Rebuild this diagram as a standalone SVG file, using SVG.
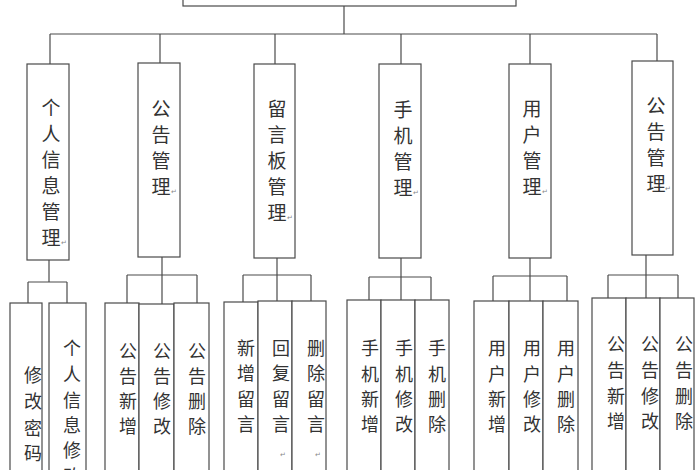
<svg xmlns="http://www.w3.org/2000/svg" width="700" height="470" viewBox="0 0 700 470">
<style>
rect{fill:#fff;stroke:#4a4a4a;stroke-width:1.2}
#connectors line{stroke:#4a4a4a;stroke-width:1.2}
.t{font-family:"Noto Sans CJK SC","Noto Sans CJK TC",sans-serif;font-size:19px;fill:#333;text-anchor:middle}
.s{font-family:"Noto Sans CJK SC","Noto Sans CJK TC",sans-serif;font-size:18px;fill:#333;text-anchor:middle}
.p{font-family:"DejaVu Sans",sans-serif;font-size:7px;fill:#888}
</style>
<rect width="700" height="470" style="stroke:none"/>
<g id="connectors">
<line x1="344" y1="6" x2="344" y2="34"/>
<line x1="50" y1="34" x2="657" y2="34"/>
<line x1="50" y1="34" x2="50" y2="64"/>
<line x1="160" y1="34" x2="160" y2="63"/>
<line x1="275" y1="34" x2="275" y2="64"/>
<line x1="401" y1="34" x2="401" y2="64"/>
<line x1="530" y1="34" x2="530" y2="64"/>
<line x1="657" y1="34" x2="657" y2="61"/>
<line x1="49" y1="260" x2="49" y2="282"/>
<line x1="28" y1="282" x2="67" y2="282"/>
<line x1="28" y1="282" x2="28" y2="303"/>
<line x1="67" y1="282" x2="67" y2="303"/>
<line x1="162" y1="257" x2="162" y2="304"/>
<line x1="127" y1="275" x2="197" y2="275"/>
<line x1="127" y1="275" x2="127" y2="303"/>
<line x1="197" y1="275" x2="197" y2="303"/>
<line x1="277" y1="258" x2="277" y2="301"/>
<line x1="243" y1="275" x2="311" y2="275"/>
<line x1="243" y1="275" x2="243" y2="302"/>
<line x1="311" y1="275" x2="311" y2="301"/>
<line x1="401" y1="258" x2="401" y2="300"/>
<line x1="369" y1="277" x2="431" y2="277"/>
<line x1="369" y1="277" x2="369" y2="300"/>
<line x1="431" y1="277" x2="431" y2="300"/>
<line x1="530" y1="258" x2="530" y2="301"/>
<line x1="493" y1="276" x2="567" y2="276"/>
<line x1="493" y1="276" x2="493" y2="301"/>
<line x1="567" y1="276" x2="567" y2="301"/>
<line x1="646" y1="255" x2="646" y2="298"/>
<line x1="608" y1="275" x2="678" y2="275"/>
<line x1="608" y1="275" x2="608" y2="298"/>
<line x1="678" y1="275" x2="678" y2="298"/>
</g>
<g id="root"><rect x="183" y="-40" width="333" height="46"/></g>
<g id="n1"><rect x="27" y="64" width="42" height="196"/>
<text class="t"><tspan x="51" y="115">个</tspan><tspan x="51" y="141">人</tspan><tspan x="51" y="167">信</tspan><tspan x="51" y="193">息</tspan><tspan x="51" y="219">管</tspan><tspan x="51" y="245">理</tspan></text><text class="p" x="61" y="245">↵</text></g>
<g id="n2"><rect x="138" y="63" width="42" height="194"/>
<text class="t"><tspan x="161" y="116">公</tspan><tspan x="161" y="142">告</tspan><tspan x="161" y="168">管</tspan><tspan x="161" y="194">理</tspan></text><text class="p" x="171" y="194">↵</text></g>
<g id="n3"><rect x="254" y="64" width="41" height="194"/>
<text class="t"><tspan x="277" y="116">留</tspan><tspan x="277" y="142">言</tspan><tspan x="277" y="168">板</tspan><tspan x="277" y="194">管</tspan><tspan x="277" y="220">理</tspan></text><text class="p" x="287" y="220">↵</text></g>
<g id="n4"><rect x="379" y="64" width="42" height="194"/>
<text class="t"><tspan x="403" y="117">手</tspan><tspan x="403" y="143">机</tspan><tspan x="403" y="169">管</tspan><tspan x="403" y="195">理</tspan></text><text class="p" x="413" y="195">↵</text></g>
<g id="n5"><rect x="509" y="64" width="42" height="194"/>
<text class="t"><tspan x="532" y="116">用</tspan><tspan x="532" y="142">户</tspan><tspan x="532" y="168">管</tspan><tspan x="532" y="194">理</tspan></text><text class="p" x="542" y="194">↵</text></g>
<g id="n6"><rect x="632" y="61" width="41" height="194"/>
<text class="t"><tspan x="656" y="113">公</tspan><tspan x="656" y="139">告</tspan><tspan x="656" y="165">管</tspan><tspan x="656" y="191">理</tspan></text><text class="p" x="665" y="191">↵</text></g>
<g id="n1a"><rect x="10" y="303" width="32" height="180"/>
<text class="s"><tspan x="33" y="382">修</tspan><tspan x="33" y="408">改</tspan><tspan x="33" y="435">密</tspan><tspan x="33" y="460">码</tspan></text></g>
<g id="n1b"><rect x="49" y="303" width="37" height="180"/>
<text class="s"><tspan x="72" y="355">个</tspan><tspan x="72" y="381">人</tspan><tspan x="72" y="407">信</tspan><tspan x="72" y="432">息</tspan><tspan x="72" y="457">修</tspan><tspan x="72" y="483">改</tspan></text></g>
<g id="n2a"><rect x="105" y="303" width="34" height="180"/>
<text class="s"><tspan x="128" y="358">公</tspan><tspan x="128" y="383">告</tspan><tspan x="128" y="408">新</tspan><tspan x="128" y="433">增</tspan></text></g>
<g id="n2b"><rect x="139" y="304" width="35" height="180"/>
<text class="s"><tspan x="162" y="358">公</tspan><tspan x="162" y="383">告</tspan><tspan x="162" y="408">修</tspan><tspan x="162" y="433">改</tspan></text></g>
<g id="n2c"><rect x="174" y="303" width="35" height="180"/>
<text class="s"><tspan x="197" y="358">公</tspan><tspan x="197" y="383">告</tspan><tspan x="197" y="408">删</tspan><tspan x="197" y="433">除</tspan></text></g>
<g id="n3a"><rect x="224" y="302" width="34" height="180"/>
<text class="s"><tspan x="246" y="355">新</tspan><tspan x="246" y="380">增</tspan><tspan x="246" y="406">留</tspan><tspan x="246" y="431">言</tspan></text></g>
<g id="n3b"><rect x="258" y="301" width="34" height="180"/>
<text class="s"><tspan x="281" y="355">回</tspan><tspan x="281" y="380">复</tspan><tspan x="281" y="406">留</tspan><tspan x="281" y="431">言</tspan></text><text class="p" x="280" y="457">↵</text></g>
<g id="n3c"><rect x="292" y="301" width="34" height="180"/>
<text class="s"><tspan x="316" y="355">删</tspan><tspan x="316" y="380">除</tspan><tspan x="316" y="406">留</tspan><tspan x="316" y="431">言</tspan></text><text class="p" x="315" y="457">↵</text></g>
<g id="n4a"><rect x="347" y="300" width="34" height="180"/>
<text class="s"><tspan x="370" y="355">手</tspan><tspan x="370" y="381">机</tspan><tspan x="370" y="406">新</tspan><tspan x="370" y="431">增</tspan></text></g>
<g id="n4b"><rect x="381" y="300" width="34" height="180"/>
<text class="s"><tspan x="404" y="355">手</tspan><tspan x="404" y="381">机</tspan><tspan x="404" y="406">修</tspan><tspan x="404" y="431">改</tspan></text></g>
<g id="n4c"><rect x="415" y="300" width="34" height="180"/>
<text class="s"><tspan x="437" y="355">手</tspan><tspan x="437" y="381">机</tspan><tspan x="437" y="406">删</tspan><tspan x="437" y="431">除</tspan></text></g>
<g id="n5a"><rect x="474" y="301" width="35" height="180"/>
<text class="s"><tspan x="497" y="355">用</tspan><tspan x="497" y="381">户</tspan><tspan x="497" y="406">新</tspan><tspan x="497" y="431">增</tspan></text></g>
<g id="n5b"><rect x="509" y="301" width="34" height="180"/>
<text class="s"><tspan x="532" y="355">用</tspan><tspan x="532" y="381">户</tspan><tspan x="532" y="406">修</tspan><tspan x="532" y="431">改</tspan></text></g>
<g id="n5c"><rect x="543" y="301" width="35" height="180"/>
<text class="s"><tspan x="566" y="355">用</tspan><tspan x="566" y="381">户</tspan><tspan x="566" y="406">删</tspan><tspan x="566" y="431">除</tspan></text></g>
<g id="n6a"><rect x="592" y="298" width="34" height="180"/>
<text class="s"><tspan x="616" y="351">公</tspan><tspan x="616" y="377">告</tspan><tspan x="616" y="403">新</tspan><tspan x="616" y="428">增</tspan></text></g>
<g id="n6b"><rect x="626" y="298" width="34" height="180"/>
<text class="s"><tspan x="650" y="351">公</tspan><tspan x="650" y="377">告</tspan><tspan x="650" y="403">修</tspan><tspan x="650" y="428">改</tspan></text></g>
<g id="n6c"><rect x="660" y="298" width="34" height="180"/>
<text class="s"><tspan x="684" y="351">公</tspan><tspan x="684" y="377">告</tspan><tspan x="684" y="403">删</tspan><tspan x="684" y="428">除</tspan></text></g>
</svg>
